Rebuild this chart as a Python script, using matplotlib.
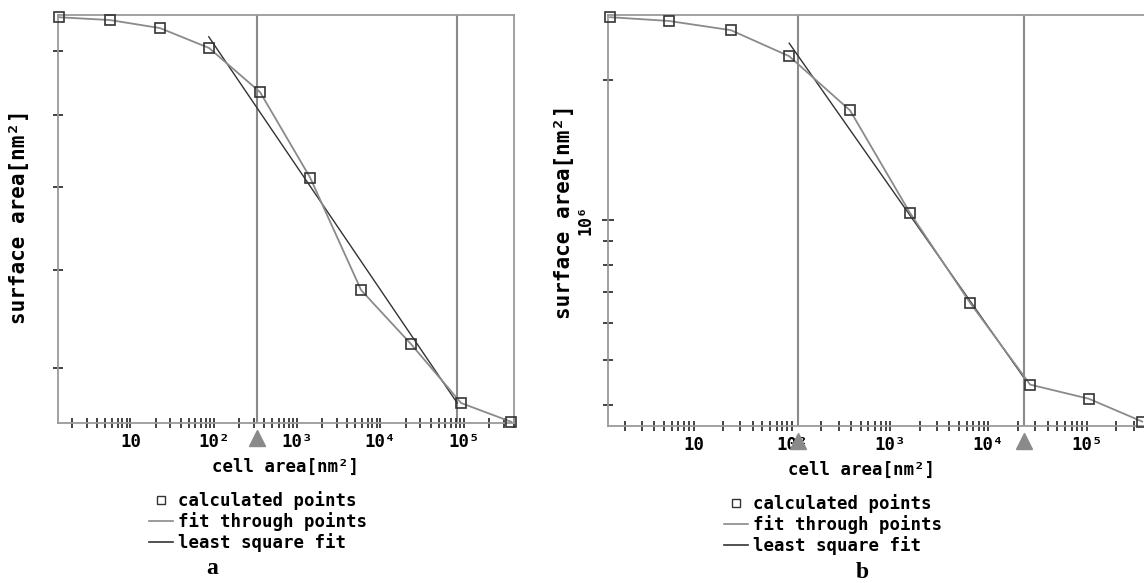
import matplotlib
matplotlib.use("Agg")
import matplotlib.pyplot as plt
import matplotlib.transforms as mtransforms
from matplotlib.lines import Line2D
from matplotlib.ticker import LogLocator, NullFormatter

# panel a
cell_a = [1.39, 5.7, 22.6, 87.7, 359, 1430, 5860, 23300, 92900, 370000]
surf_a = [9.58e5, 9.53e5, 9.39e5, 9.05e5, 8.34e5, 7.12e5, 5.78e5, 5.23e5, 4.69e5, 4.53e5]
lsq_x_a = [87, 83400]
lsq_y_a = [9.24e5, 4.69e5]
marks_a = [333, 83400]
arrows_a = [333]

# panel b
cell_b = [1.42, 5.6, 24, 94, 391, 1590, 6500, 26500, 105000, 366000]
surf_b = [2.73e6, 2.68e6, 2.56e6, 2.25e6, 1.72e6, 1.035e6, 0.663e6, 0.442e6, 0.412e6, 0.368e6]
lsq_x_b = [94, 22500]
lsq_y_b = [2.40e6, 0.46e6]
marks_b = [116, 23000]
arrows_b = [116, 23000]

xtick_vals = [10, 100, 1e3, 1e4, 1e5]
xtick_labels = ["10", "10²", "10³", "10⁴", "10⁵"]
legend_labels = ["calculated points", "fit through points", "least square fit"]

W, H = 1144, 583
mono = dict(family="DejaVu Sans Mono", weight="bold")
fig = plt.figure(figsize=(W / 100, H / 100), dpi=100)


def px_box(l, t, r, b):
    return [l / W, 1 - b / H, (r - l) / W, (b - t) / H]


def setup(ax, cell, surf, lsq_x, lsq_y, marks, arrows, ylim):
    ax.set_xscale("log")
    ax.set_yscale("log")
    ax.plot(cell, surf, color="#8a8a8a", lw=1.3, marker="s", ms=6.5,
            mfc="none", mec="#333333", mew=1.2, clip_on=False, zorder=3)
    ax.plot(lsq_x, lsq_y, color="#333333", lw=1.0, zorder=2)
    for m in marks:
        ax.axvline(m, color="#8a8a8a", lw=1.5, zorder=1)
    trans = mtransforms.blended_transform_factory(ax.transData, ax.transAxes)
    ax.plot(arrows, [-0.037] * len(arrows), "^", color="#8a8a8a", ms=12,
            transform=trans, clip_on=False)
    ax.set_xlim(1.35, 4.0e5)
    ax.set_ylim(*ylim)
    ax.set_xticks(xtick_vals, xtick_labels, **mono, fontsize=12.5)
    ax.xaxis.set_minor_locator(LogLocator(base=10, subs=range(2, 10)))
    ax.xaxis.set_minor_formatter(NullFormatter())
    ax.yaxis.set_minor_locator(LogLocator(base=10, subs=range(2, 10)))
    ax.yaxis.set_minor_formatter(NullFormatter())
    ax.tick_params(which="both", direction="inout", length=7, width=1.2,
                   color="#222222")
    ax.tick_params(axis="x", which="major", pad=4)
    for s in ax.spines.values():
        s.set_color("#9a9a9a")
        s.set_linewidth(1.3)
    handles = [
        Line2D([], [], ls="none", marker="s", ms=6, mfc="white", mec="#333333"),
        Line2D([], [], color="#8a8a8a", lw=1.2),
        Line2D([], [], color="#333333", lw=1.2),
    ]
    return handles


ax1 = fig.add_axes(px_box(58, 15, 514, 423))
h = setup(ax1, cell_a, surf_a, lsq_x_a, lsq_y_a, marks_a, arrows_a, (4.52e5, 9.62e5))
ax1.set_yticks([])
ax1.yaxis.set_minor_locator(LogLocator(base=10, subs=range(2, 10)))
ax1.yaxis.set_minor_formatter(NullFormatter())
ax1.tick_params(which="both", direction="inout", length=7, width=1.2, color="#222222")
ax1.legend(h, legend_labels, loc="upper left", bbox_to_anchor=(140 / W, 1 - 482 / H),
           bbox_transform=fig.transFigure, frameon=False, borderpad=0,
           handlelength=1.4, handletextpad=0.3, labelspacing=0.12,
           prop=dict(size=12.5, **mono))

ax2 = fig.add_axes(px_box(608, 15, 1146, 426))
h = setup(ax2, cell_b, surf_b, lsq_x_b, lsq_y_b, marks_b, arrows_b, (3.6e5, 2.76e6))
ax2.set_yticks([1e6], ["10⁶"], **mono, fontsize=12, rotation=90, va="center")
ax2.tick_params(axis="y", which="major", pad=6, length=8)
ax2.legend(h, legend_labels, loc="upper left", bbox_to_anchor=(715 / W, 1 - 485 / H),
           bbox_transform=fig.transFigure, frameon=False, borderpad=0,
           handlelength=1.4, handletextpad=0.3, labelspacing=0.12,
           prop=dict(size=12.5, **mono))

# axis titles
fig.text(285 / W, 1 - 467 / H, "cell area[nm²]", ha="center", va="center", fontsize=12.5, **mono)
fig.text(862 / W, 1 - 470 / H, "cell area[nm²]", ha="center", va="center", fontsize=12.5, **mono)
fig.text(19 / W, 1 - 217 / H, "surface area[nm²]", ha="center", va="center",
         rotation=90, fontsize=15, **mono)
fig.text(564 / W, 1 - 212 / H, "surface area[nm²]", ha="center", va="center",
         rotation=90, fontsize=15, **mono)

# panel letters
fig.text(212 / W, 1 - 568 / H, "a", ha="center", va="center", fontsize=17,
         family="Liberation Serif", weight="bold")
fig.text(862 / W, 1 - 572 / H, "b", ha="center", va="center", fontsize=17,
         family="Liberation Serif", weight="bold")

fig.savefig("out.png", dpi=100)
